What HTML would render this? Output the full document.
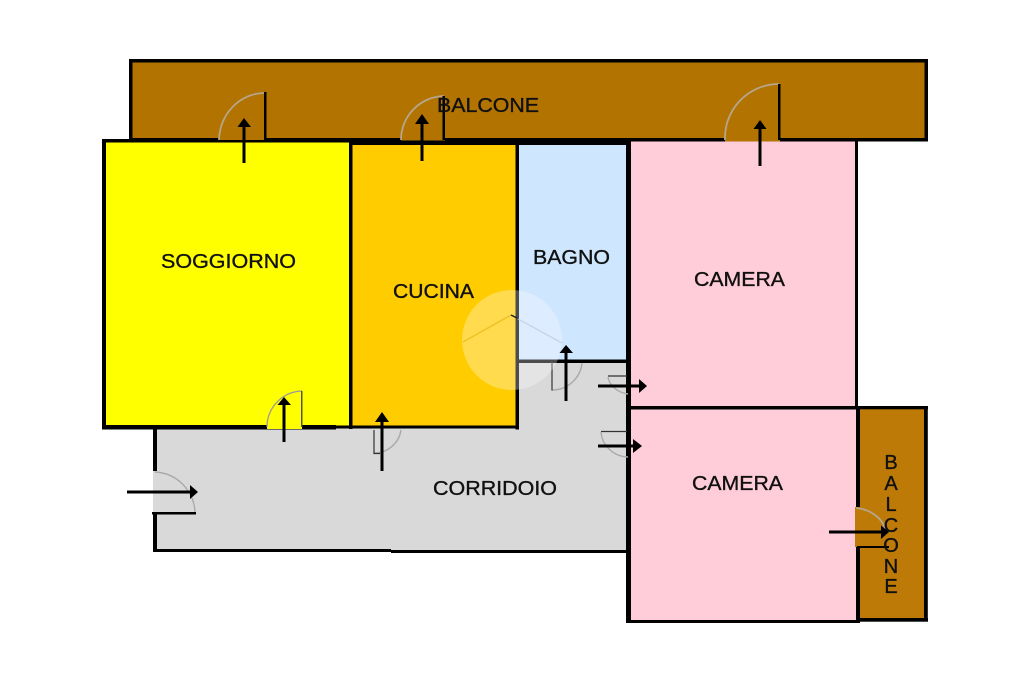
<!DOCTYPE html>
<html><head><meta charset="utf-8"><style>
html,body{margin:0;padding:0;background:#fff;width:1024px;height:682px;overflow:hidden}
svg{display:block}
text{font-family:"Liberation Sans",sans-serif;font-size:20px;fill:#111;stroke:#111;stroke-width:.35}
.a{stroke:#000;stroke-width:3;fill:none}
.h{fill:#000;stroke:none}
.d{stroke:#b5a68c;stroke-width:1.8;fill:none}
.g{stroke:#aaa;stroke-width:1.4;fill:none}
</style></head><body>
<svg width="1024" height="682" viewBox="0 0 1024 682" xmlns="http://www.w3.org/2000/svg">
<!-- fills -->
<rect x="131" y="61" width="795" height="78" fill="#b27300"/>
<rect x="860" y="408" width="66" height="212" fill="#bd7a06"/>
<rect x="104" y="141" width="246" height="285" fill="#ffff00"/>
<rect x="352" y="144" width="165" height="284" fill="#ffcc00"/>
<rect x="518" y="144" width="109" height="217" fill="#cfe6ff"/>
<rect x="630" y="140" width="226" height="268" fill="#ffccd9"/>
<rect x="630" y="408" width="227" height="213" fill="#ffccd9"/>
<rect x="155" y="428" width="472" height="122" fill="#d9d9d9"/>
<rect x="518" y="361" width="109" height="68" fill="#d9d9d9"/>
<!-- walls -->
<g fill="#000">
<rect x="129" y="59" width="799" height="3.500"/>
<rect x="129" y="59" width="3.500" height="82"/>
<rect x="924.500" y="59" width="3.500" height="82"/>
<rect x="129" y="138" width="799" height="3.500"/>
<rect x="102" y="139" width="4" height="289.500"/>
<rect x="102" y="139" width="250" height="3.500"/>
<rect x="349" y="139" width="3.500" height="290"/>
<rect x="349" y="141" width="280" height="4"/>
<rect x="102" y="425" width="234" height="4.500"/>
<rect x="336" y="425.500" width="183" height="3"/>
<rect x="515.500" y="142" width="3.500" height="287.500"/>
<rect x="518" y="359.500" width="110" height="3.500"/>
<rect x="626" y="141" width="5" height="482"/>
<rect x="855" y="139" width="3" height="267"/>
<rect x="631" y="406" width="228" height="3.500"/>
<rect x="856" y="406" width="4" height="217"/>
<rect x="856" y="406" width="72" height="3.300"/>
<rect x="924" y="406" width="3.800" height="215.500"/>
<rect x="856" y="618" width="72" height="3.700"/>
<rect x="629" y="620" width="229" height="3"/>
<rect x="153" y="428" width="4" height="43"/>
<rect x="153" y="513" width="4" height="39"/>
<rect x="153" y="549" width="238" height="3"/>
<rect x="391" y="550" width="237" height="3"/>
</g>
<!-- door openings -->
<rect x="219" y="137" width="47" height="3" fill="#b27300"/>
<rect x="401" y="137" width="44" height="3.500" fill="#b27300"/>
<rect x="725" y="137" width="55" height="4.500" fill="#b27300"/>
<rect x="267" y="424" width="35" height="5" fill="#ffff00"/>
<rect x="153" y="471" width="4" height="42" fill="#d9d9d9"/>
<rect x="855" y="507" width="5" height="40" fill="#bd7a06"/>
<!-- door arcs and leaves -->
<path d="M219 140A46 48 0 0 1 264 93" class="d"/>
<rect x="264" y="92" width="2.500" height="48"/>
<path d="M401 140A44 44 0 0 1 444 96" class="d"/>
<rect x="442.500" y="96" width="2.500" height="44"/>
<path d="M725 140A54 54 0 0 1 779 84" class="d"/>
<rect x="778" y="84" width="2.500" height="56"/>
<path d="M267 427A36 36 0 0 1 302 391" stroke="#999" stroke-width="1.300" fill="none"/>
<rect x="301" y="391" width="1.500" height="36" fill="#555"/>
<path d="M401 430A27 27 0 0 1 374 453" class="g"/>
<path d="M374 430V453.500H380" stroke="#333" stroke-width="1.200" fill="none"/>
<path d="M582 363A30 30 0 0 1 552 390" class="g"/>
<path d="M552 362V390.500" stroke="#333" stroke-width="1.200" fill="none"/>
<path d="M608 376H627" stroke="#333" stroke-width="1.200" fill="none"/>
<path d="M608 377A24 20 0 0 0 628 394" class="g"/>
<path d="M601 431.500H627" stroke="#333" stroke-width="1.200" fill="none"/>
<path d="M601 432A28 27 0 0 0 628 457" class="g"/>
<path d="M155 472A42 42 0 0 1 195 513" class="g" stroke-width="1.600"/>
<rect x="152" y="512" width="44" height="2.500"/>
<path d="M856 508A34 28 0 0 1 886 532" class="d"/>
<rect x="857" y="546" width="32" height="2"/>
<!-- watermark -->
<circle cx="512" cy="340" r="50" fill="#fff" opacity=".3"/>
<path d="M463 342L511 315" stroke="#e8b818" stroke-width="1.500" fill="none" opacity=".7"/>
<path d="M511 315L517 318" stroke="#222" stroke-width="1.500" fill="none"/>
<path d="M518 319L562 343" stroke="#bccbdc" stroke-width="1.300" fill="none" opacity=".7"/>
<!-- text -->
<text x="437" y="112" textLength="102" lengthAdjust="spacingAndGlyphs">BALCONE</text>
<text x="161" y="268" textLength="135" lengthAdjust="spacingAndGlyphs">SOGGIORNO</text>
<text x="393" y="298" textLength="81" lengthAdjust="spacingAndGlyphs">CUCINA</text>
<text x="533" y="264" textLength="77" lengthAdjust="spacingAndGlyphs">BAGNO</text>
<text x="694" y="286" textLength="91" lengthAdjust="spacingAndGlyphs">CAMERA</text>
<text x="692" y="490" textLength="91" lengthAdjust="spacingAndGlyphs">CAMERA</text>
<text x="433" y="495" textLength="124" lengthAdjust="spacingAndGlyphs">CORRIDOIO</text>
<g text-anchor="middle">
<text x="891" y="469">B</text>
<text x="891" y="490">A</text>
<text x="891" y="511">L</text>
<text x="891" y="532">C</text>
<text x="891" y="552">O</text>
<text x="891" y="573">N</text>
<text x="891" y="593">E</text>
</g>
<!-- arrows -->
<path d="M244 163V121" class="a"/><path d="M237.500 127L244 118L251 127Z" class="h"/>
<path d="M422 161V119" class="a"/><path d="M415 124L422 114L429 124Z" class="h"/>
<path d="M760 166V126" class="a"/><path d="M753.500 129L760 120L766.500 129Z" class="h"/>
<path d="M284 442V402" class="a"/><path d="M277.500 405L284 397L291 405Z" class="h"/>
<path d="M382 471V418" class="a"/><path d="M375 422L382 412L389 422Z" class="h"/>
<path d="M566 401V352" class="a"/><path d="M559.500 353L566 345L573 353Z" class="h"/>
<path d="M598 386H640" class="a"/><path d="M639 379L647 386L639 393Z" class="h"/>
<path d="M598 446H634" class="a"/><path d="M633 439L642 446L633 453Z" class="h"/>
<path d="M127 492H190" class="a"/><path d="M190 485L198 492L190 499Z" class="h"/>
<path d="M829 532H882" class="a"/><path d="M881 525.500L889 532L881 539Z" class="h"/>
</svg>
</body></html>
